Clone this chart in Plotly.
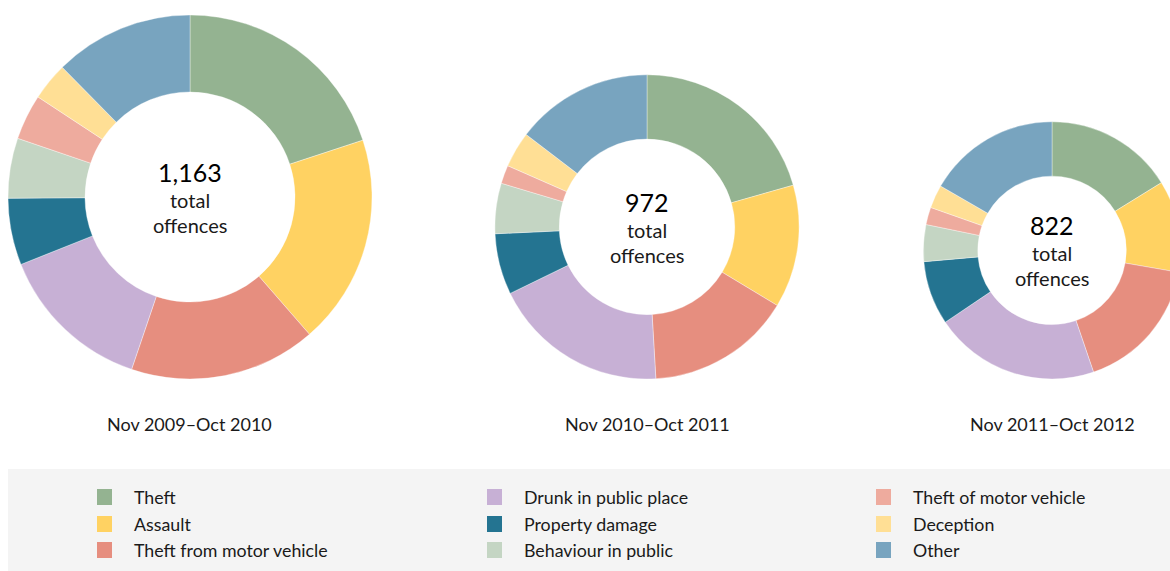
import plotly.graph_objects as go

# Offence categories and colours
categories = ["Theft", "Assault", "Theft from motor vehicle", "Drunk in public place",
              "Property damage", "Behaviour in public", "Theft of motor vehicle",
              "Deception", "Other"]
colors = ["#94b391", "#ffd262", "#e68e7f", "#c7b0d5", "#247491",
          "#c4d5c3", "#eeab9e", "#ffdf95", "#78a4bf"]

# Offence counts per period
periods = ["Nov 2009\u2013Oct 2010", "Nov 2010\u2013Oct 2011", "Nov 2011\u2013Oct 2012"]
counts_2010 = [232, 217, 193, 160, 69, 62, 47, 39, 144]
counts_2011 = [200, 127, 150, 182, 63, 52, 19, 37, 142]
counts_2012 = [133, 95, 140, 171, 66, 38, 18, 24, 137]
series = [counts_2010, counts_2011, counts_2012]

W, H = 1190, 571          # canvas is a bit wider than the view; the right edge is cropped
FONT = "Lato"
TEXT = "#1a1a1a"

centres_x = [190, 647, 1052]
bottom_y = 379            # all rings rest on the same baseline
max_r = 182               # radius of the largest ring; others scale with total


def px(x):
    return x / W


def py(y):
    return 1 - y / H


fig = go.Figure()
annotations = []
shapes = []

totals = [sum(s) for s in series]
for vals, cx, label, total in zip(series, centres_x, periods, totals):
    r = max_r * total / max(totals)
    cy = bottom_y - r
    fig.add_trace(go.Pie(
        labels=categories, values=vals, sort=False, direction="clockwise",
        rotation=0, hole=0.577, textinfo="none", hoverinfo="label+value",
        marker=dict(colors=colors, line=dict(color="rgba(255,255,255,0.6)", width=0.6)),
        domain=dict(x=[px(cx - r), px(cx + r)], y=[py(cy + r), py(cy - r)]),
        showlegend=False,
    ))
    annotations += [
        dict(text=f"{total:,}", x=px(cx), y=py(cy - 25), font=dict(size=25, color="#000")),
        dict(text="total", x=px(cx), y=py(cy + 3), font=dict(size=20, color=TEXT)),
        dict(text="offences", x=px(cx), y=py(cy + 28), font=dict(size=20, color=TEXT)),
        dict(text=label, x=px(cx), y=py(424), font=dict(size=18, color=TEXT)),
    ]

# Legend panel
shapes.append(dict(type="rect", xref="paper", yref="paper",
                   x0=px(8), x1=1, y0=0, y1=py(469),
                   fillcolor="#f4f4f4", line=dict(width=0), layer="below"))
col_x = [97, 487, 876]
row_y = [497, 524, 550]
for i, (cat, col) in enumerate(zip(categories, colors)):
    c, rw = divmod(i, 3)
    x0, y0 = col_x[c], row_y[rw]
    shapes.append(dict(type="rect", xref="paper", yref="paper",
                       x0=px(x0), x1=px(x0 + 15), y0=py(y0 + 8), y1=py(y0 - 8),
                       fillcolor=col, line=dict(width=0)))
    annotations.append(dict(text=cat, x=px(x0 + 35), y=py(y0), xanchor="left",
                            font=dict(size=17.8, color=TEXT)))

for a in annotations:
    a.setdefault("xanchor", "center")
    a.update(xref="paper", yref="paper", yanchor="middle", showarrow=False)
    a["font"]["family"] = FONT

fig.update_layout(
    width=W, height=H, margin=dict(l=0, r=0, t=0, b=0),
    paper_bgcolor="white", plot_bgcolor="white",
    annotations=annotations, shapes=shapes,
    font=dict(family=FONT),
)

fig.write_html(
    "out.html",
    post_script="document.documentElement.style.overflow='hidden';"
                "document.body.style.overflow='hidden';document.body.style.margin='0';",
)
